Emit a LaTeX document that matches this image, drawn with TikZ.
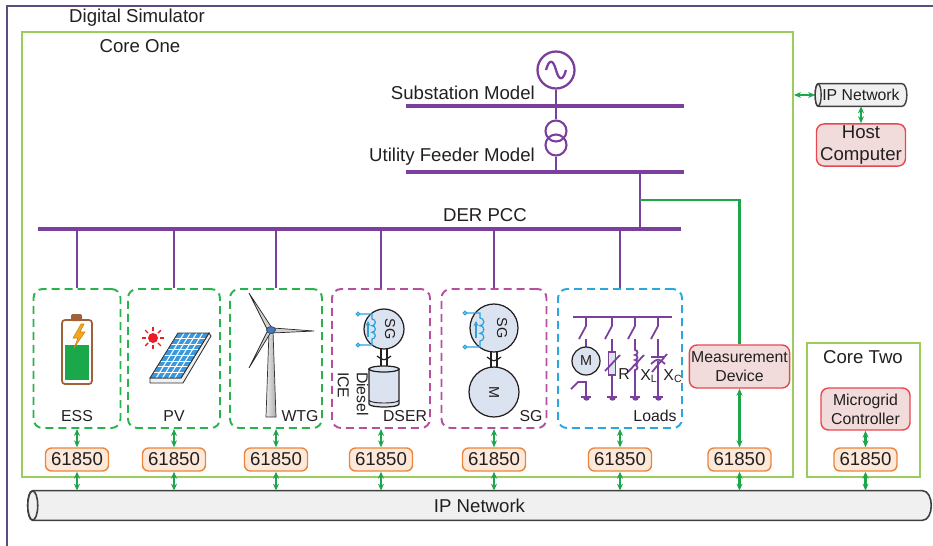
\documentclass[tikz,border=0pt]{standalone}
\usepackage{fontspec}
\setmainfont{Liberation Sans}
\usepackage{tikz}
\usetikzlibrary{positioning, arrows.meta, calc, backgrounds}
\definecolor{ink}{HTML}{231F20}
\definecolor{simframe}{HTML}{5C4D7D}
\definecolor{coregreen}{HTML}{9CCB5E}
\definecolor{busline}{HTML}{7B3F9E}
\definecolor{linkgreen}{HTML}{1FA64C}
\definecolor{unitgreen}{HTML}{2BB34B}
\definecolor{unitmagenta}{HTML}{B6509E}
\definecolor{unitblue}{HTML}{2AA7DF}
\definecolor{devred}{HTML}{E8474F}
\definecolor{devfill}{HTML}{F2DCDB}
\definecolor{iecorange}{HTML}{EE8439}
\definecolor{iecfill}{HTML}{FCE9DA}
\definecolor{pipefill}{HTML}{F0F0F0}
\definecolor{pipeline}{HTML}{404040}
\definecolor{machfill}{HTML}{DCE3F0}
\definecolor{coilblue}{HTML}{29A3DC}
\definecolor{battbrown}{HTML}{A0603A}
\definecolor{battgreen}{HTML}{1BA84B}
\definecolor{bolt}{HTML}{F8A51B}
\definecolor{sunred}{HTML}{EE1C25}
\definecolor{cellblue}{HTML}{3A98DD}
\definecolor{hubblue}{HTML}{4A78B8}
\newcommand{\txtbig}{\fontsize{10.6}{12.5}\selectfont}
\newcommand{\txtsmall}{\fontsize{9}{10.8}\selectfont}
\newcommand{\txttiny}{\fontsize{8.2}{9.5}\selectfont}

\begin{document}
\begin{tikzpicture}[
  x=0.02cm, y=-0.02cm,
  every node/.style={font=\txtbig, text=ink},
  core/.style={draw=coregreen, line width=1.2pt, inner sep=0pt},
  derbox/.style={dash pattern=on 1.6mm off 1mm, line width=1.1pt, rounded corners=1.8mm,
    minimum height=2.78cm, inner sep=0pt},
  iec/.style={draw=iecorange, fill=iecfill, rounded corners=1.2mm, line width=0.8pt,
    minimum width=1.26cm, minimum height=0.46cm, inner sep=0pt},
  dev/.style={draw=devred, fill=devfill, rounded corners=1.5mm, line width=0.8pt,
    align=center, font=\txtsmall, inner sep=1pt},
  pipe/.style={fill=pipefill, draw=pipeline, line width=0.9pt},
  bus/.style={busline, line width=1.8pt},
  drop/.style={busline, line width=1.2pt},
  ldwire/.style={busline, line width=1pt},
  wire/.style={linkgreen, line width=1.2pt},
  link/.style={linkgreen, line width=1.2pt,
    {Stealth[length=1.4mm, width=1.2mm]}-{Stealth[length=1.4mm, width=1.2mm]}},
  mach/.style={circle, draw=ink, fill=machfill, line width=0.7pt, inner sep=0pt},
  coil/.style={coilblue, line width=0.7pt},
  shaft/.style={ink, line width=0.7pt},
  tag/.style={font=\txtsmall},
  gnd/.pic={
    \draw[busline, line width=1pt] (-5,0) -- (5,0);
    \fill[busline] (-3.5,0) .. controls (-3.5,4.5) and (3.5,4.5) .. (3.5,0) -- cycle;
  }
]
  \useasboundingbox (0,0) rectangle (933,545);

  % Simulator frame, runs off the page
  \begin{scope}
    \clip (0,0) rectangle (933,545);
    \draw[simframe, line width=1.2pt] (7,6) rectangle (960,580);
  \end{scope}
  \node (simlbl) at (137,18) {Digital Simulator};

  % Cores
  \node[core, minimum width=15.42cm, minimum height=8.9cm] (coreone) at (407.5,254.5) {};
  \node (coreonelbl) at (140,46) {Core One};
  \node[core, minimum width=2.26cm, minimum height=2.68cm] (coretwo) at (863.5,410) {};
  \node (coretwolbl) at (863,357) {Core Two};

  % Grid side: substation, feeder and PCC buses
  \coordinate (subL) at (406,106); \coordinate (subR) at (684,106);
  \coordinate (fdrL) at (406,172); \coordinate (fdrR) at (684,172);
  \coordinate (pccL) at (38,229);  \coordinate (pccR) at (681,229);
  \coordinate (tap) at (640,200);
  \node[circle, draw=busline, line width=1.3pt, minimum size=0.74cm, inner sep=0pt] (gen) at (556,70) {};
  \draw[busline, line width=1.3pt] (546,70) .. controls (549,59) and (553,59) .. (556,70)
    .. controls (559,81) and (563,81) .. (566,70);
  \node[circle, draw=busline, line width=1.2pt, minimum size=0.42cm, inner sep=0pt] (xfA) at (556,131) {};
  \node[circle, draw=busline, line width=1.2pt, minimum size=0.42cm, inner sep=0pt] (xfB) at (556,145) {};
  \draw[bus] (subL) -- (subR);
  \draw[bus] (fdrL) -- (fdrR);
  \draw[bus] (pccL) -- (pccR);
  \draw[drop] (gen) -- (xfA);
  \draw[drop] (xfB) -- (xfB |- fdrL);
  \draw[drop] (tap |- fdrL) -- (tap |- pccL);
  \node[anchor=east] (sublbl) at (541,93) {Substation Model};
  \node[anchor=east] (fdrlbl) at (541,157) {Utility Feeder Model};
  \node (pcclbl) at (485,215) {DER PCC};

  % DER units
  \node[derbox, draw=unitgreen, minimum width=1.74cm] (ess) at (77,358.5) {};
  \node[derbox, draw=unitgreen, minimum width=1.84cm] (pv) at (174,358.5) {};
  \node[derbox, draw=unitgreen, minimum width=1.84cm] (wtg) at (276,358.5) {};
  \node[derbox, draw=unitmagenta, minimum width=1.96cm] (dser) at (381,358.5) {};
  \node[derbox, draw=unitmagenta, minimum width=2.1cm] (sgu) at (494,358.5) {};
  \node[derbox, draw=unitblue, minimum width=2.48cm] (loads) at (620,358.5) {};
  \draw[drop] (ess |- pccL) -- (ess);
  \draw[drop] (pv |- pccL) -- (pv);
  \draw[drop] (wtg |- pccL) -- (wtg);
  \draw[drop] (dser |- pccL) -- (dser);
  \draw[drop] (sgu |- pccL) -- (sgu);
  \draw[drop] (loads |- pccL) -- (loads);
  \node[tag] (esslbl) at (77,416) {ESS};
  \node[tag] (pvlbl) at (174,416) {PV};
  \node[tag] (wtglbl) at (300,416) {WTG};
  \node[tag] (dserlbl) at (405,416) {DSER};
  \node[tag] (sglbl) at (531,416) {SG};
  \node[tag] (loadslbl) at (655,416) {Loads};

  % battery
  \draw[battbrown, line width=1pt, fill=white, rounded corners=0.06cm] (62,320) rectangle (92,384);
  \fill[battbrown, rounded corners=0.04cm] (71,314) rectangle (82,321);
  \fill[battgreen] (65,345) rectangle (89,380);
  \filldraw[fill=bolt, draw=bolt!80!black, line width=0.3pt] (81,324) -- (73,338) -- (78,338)
    -- (74,348) -- (85,332) -- (80,332) -- (84,324) -- cycle;

  % solar panel
  \fill[sunred] (153,338) circle (5);
  \foreach \a in {0,45,...,315}
    \draw[sunred, line width=0.8pt] (153,338) ++(\a:7) -- ++(\a:4);
  \filldraw[fill=gray!12, draw=gray!40!black, line width=0.5pt]
    (150,378) -- (181,378) -- (209,333) -- (211,336) -- (183,383) -- (150,383) -- cycle;
  \begin{scope}[shift={(150,378)}, x={(0.62cm,0)}, y={(0.56cm,0.9cm)}]
    \fill[cellblue] (0,0) -- (1,0) -- (1,1) -- (0,1) -- cycle;
    \foreach \u in {1,...,4}
      \draw[white, line width=0.6pt] (\u/5,0) -- (\u/5,1);
    \foreach \v in {1,...,7}
      \draw[white, line width=0.6pt] (0,\v/8) -- (1,\v/8);
    \draw[gray!40!black, line width=0.5pt] (0,0) -- (1,0) -- (1,1) -- (0,1) -- cycle;
  \end{scope}

  % wind turbine
  \shade[left color=gray!15, right color=gray!65] (266,417) -- (276,417) -- (273,331) -- (269,331) -- cycle;
  \draw[gray!40!black, line width=0.4pt] (266,417) -- (276,417) -- (273,331) -- (269,331) -- cycle;
  \filldraw[fill=gray!35, draw=gray!30!black, line width=0.4pt] (268,331) -- (249,293) -- (272,328) -- cycle;
  \filldraw[fill=gray!35, draw=gray!30!black, line width=0.4pt] (273,328) -- (314,331) -- (272,333) -- cycle;
  \filldraw[fill=gray!35, draw=gray!30!black, line width=0.4pt] (271,332) -- (249,368) -- (268,330) -- cycle;
  \filldraw[fill=hubblue, draw=hubblue!60!black, line width=0.4pt] (271,330) ellipse [x radius=4.5, y radius=3.5];

  % diesel set
  \node[mach, minimum size=0.8cm] (dsersg) at (384,329) {};
  \node[rotate=-90, font=\txttiny] (dsersgtxt) at (390,329) {SG};
  \draw[coil] (358,314) circle (1.8) (358,345) circle (1.8);
  \draw[coil] (360,314) -- (372,314) -- (372,319)
    arc[start angle=-90, end angle=90, radius=3.33] arc[start angle=-90, end angle=90, radius=3.33]
    arc[start angle=-90, end angle=90, radius=3.33] -- (372,345) -- (360,345);
  \draw[coil, -{Stealth[length=1mm, width=1mm]}] (368,337) -- (368,321);
  \draw[shaft] (381,349) -- (381,368) (387,349) -- (387,368);
  \draw[shaft] (377,356) .. controls (384,361) .. (391,356);
  \filldraw[fill=machfill, draw=ink, line width=0.7pt] (369,369) -- (369,404)
    .. controls (369,408) and (399,408) .. (399,404) -- (399,369) -- cycle;
  \draw[ink, line width=0.5pt] (369,400) .. controls (369,404) and (399,404) .. (399,400);
  \filldraw[fill=machfill, draw=ink, line width=0.7pt] (384,369) ellipse [x radius=15, y radius=3];
  \node[rotate=-90, align=left, font=\txtsmall, inner sep=0pt] (icelbl) at (353,394) {Diesel\\ICE};

  % synchronous generator set
  \node[mach, minimum size=0.96cm] (sgsg) at (494,328) {};
  \node[rotate=-90, font=\txttiny] (sgsgtxt) at (502,328) {SG};
  \draw[coil] (465,313) circle (1.8) (465,347) circle (1.8);
  \draw[coil] (467,313) -- (480,313) -- (480,318)
    arc[start angle=-90, end angle=90, radius=3.83] arc[start angle=-90, end angle=90, radius=3.83]
    arc[start angle=-90, end angle=90, radius=3.83] -- (480,347) -- (467,347);
  \draw[coil, -{Stealth[length=1mm, width=1mm]}] (476,338) -- (476,321);
  \draw[shaft] (491,352) -- (491,367) (497,352) -- (497,367);
  \draw[shaft] (487,357) .. controls (494,362) .. (501,357);
  \node[mach, minimum size=1.0cm, rotate=-90, font=\txttiny] (sgm) at (494,392) {M};

  % load feeders
  \draw[drop] (573,317) -- (672,317);
  \foreach \x in {586,612,635,658} {
    \draw[ldwire] (\x,317) -- (\x,326) -- ++(-7,13);
    \pic at (\x,397) {gnd};
  }
  \draw[ldwire] (586,339) -- (586,347);
  \node[mach, minimum size=0.56cm, font=\txttiny] (motor) at (586,361) {M};
  \draw[ldwire] (571,389) -- (578,382) -- (586,382) -- (586,397);
  \draw[ldwire] (612,339) -- (612,352) (612,375) -- (612,397);
  \draw[ldwire, fill=machfill] (608.5,352) rectangle (615.5,375);
  \draw[ldwire] (605,371) -- (620,355);
  \draw[ldwire] (635,339) -- (635,350)
    arc[start angle=-90, end angle=90, radius=2.5] arc[start angle=-90, end angle=90, radius=2.5]
    arc[start angle=-90, end angle=90, radius=2.5] arc[start angle=-90, end angle=90, radius=2.5]
    -- (635,397);
  \draw[ldwire] (628,372) -- (644,355);
  \draw[ldwire] (658,339) -- (658,357) (651,357) -- (665,357);
  \draw[ldwire] (651,364) .. controls (658,358) .. (665,364);
  \draw[ldwire] (658,361) -- (658,397);
  \draw[ldwire] (652,372) -- (667,354);
  \node[tag] (rlbl) at (624,374) {R};
  \node[tag] (xllbl) at (649,376) {X\textsubscript{L}};
  \node[tag] (xclbl) at (673,376) {X\textsubscript{C}};

  % Devices
  \node[dev, minimum width=1.98cm, minimum height=0.86cm] (meas) at (739.5,366.5) {Measurement\\Device};
  \node[dev, minimum width=1.78cm, minimum height=0.84cm] (mgc) at (865.5,409) {Microgrid\\Controller};
  \node[dev, font=\txtbig, minimum width=1.78cm, minimum height=0.84cm] (host) at (861,145) {Host\\Computer};
  \draw[wire] (tap) -| (meas);

  % 61850 interfaces
  \node[iec] (iecA) at (77,459.5) {61850};
  \node[iec] (iecB) at (174,459.5) {61850};
  \node[iec] (iecC) at (276,459.5) {61850};
  \node[iec] (iecD) at (381,459.5) {61850};
  \node[iec] (iecE) at (494,459.5) {61850};
  \node[iec] (iecF) at (620,459.5) {61850};
  \node[iec] (iecG) at (739.5,459.5) {61850};
  \node[iec] (iecH) at (865.5,459.5) {61850};

  % IP networks
  \node[minimum width=18.06cm, minimum height=0.58cm, inner sep=0pt] (ipnet) at (479.5,505.5) {IP Network};
  \node[minimum width=1.82cm, minimum height=0.44cm, inner sep=0pt, font=\txtsmall] (ipsmall) at (861,95) {IP Network};
  \begin{scope}[on background layer]
    \filldraw[pipe] ([xshift=0.1cm]ipnet.north west) -- ([xshift=-0.18cm]ipnet.north east)
      .. controls +(12,0) and +(12,0) .. ([xshift=-0.18cm]ipnet.south east)
      -- ([xshift=0.1cm]ipnet.south west)
      .. controls +(-6.7,0) and +(-6.7,0) .. ([xshift=0.1cm]ipnet.north west);
    \filldraw[pipe] ([xshift=0.1cm]ipnet.west) ellipse [x radius=5, y radius=14.5];
    \filldraw[pipe, line width=0.8pt] ([xshift=0.06cm]ipsmall.north west) -- ([xshift=-0.1cm]ipsmall.north east)
      .. controls +(6.7,0) and +(6.7,0) .. ([xshift=-0.1cm]ipsmall.south east)
      -- ([xshift=0.06cm]ipsmall.south west)
      .. controls +(-4,0) and +(-4,0) .. ([xshift=0.06cm]ipsmall.north west);
    \filldraw[pipe, line width=0.8pt] ([xshift=0.06cm]ipsmall.west) ellipse [x radius=3, y radius=11];
  \end{scope}

  % Links
  \draw[link] (ess) -- (iecA);
  \draw[link] (pv) -- (iecB);
  \draw[link] (wtg) -- (iecC);
  \draw[link] (dser) -- (iecD);
  \draw[link] (sgu) -- (iecE);
  \draw[link] (loads) -- (iecF);
  \draw[link] (meas) -- (iecG);
  \draw[link] (mgc) -- (iecH);
  \draw[link] (iecA) -- (iecA |- ipnet.north);
  \draw[link] (iecB) -- (iecB |- ipnet.north);
  \draw[link] (iecC) -- (iecC |- ipnet.north);
  \draw[link] (iecD) -- (iecD |- ipnet.north);
  \draw[link] (iecE) -- (iecE |- ipnet.north);
  \draw[link] (iecF) -- (iecF |- ipnet.north);
  \draw[link] (iecG) -- (iecG |- ipnet.north);
  \draw[link] (iecH) -- (iecH |- ipnet.north);
  \draw[link] (coreone.east |- ipsmall.west) -- (ipsmall.west);
  \draw[link] (ipsmall) -- (host);
\end{tikzpicture}
\end{document}
